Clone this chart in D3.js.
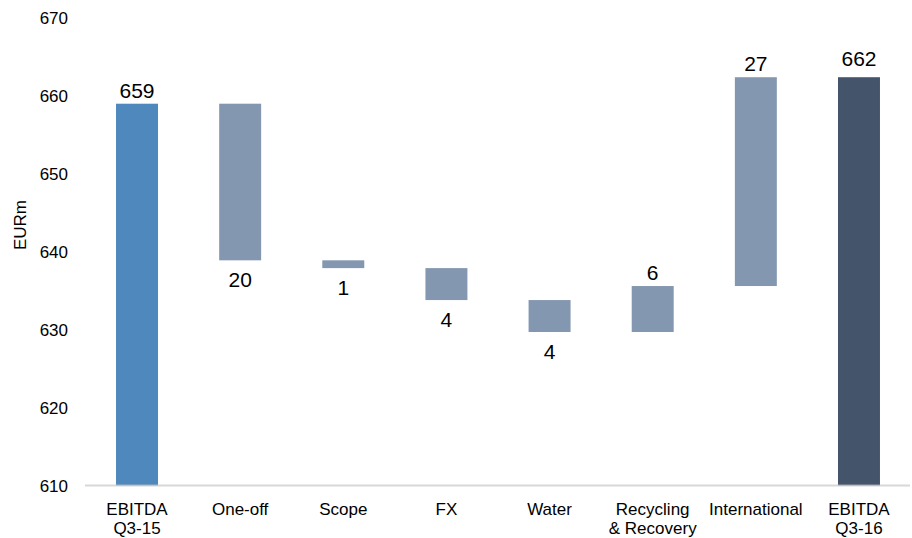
<!DOCTYPE html>
<html>
<head>
<meta charset="utf-8">
<script src="https://cdn.jsdelivr.net/npm/d3@7"></script>
<style>
  html, body { margin: 0; padding: 0; background: #fff; }
  svg { display: block; font-family: "Liberation Sans", Arial, sans-serif; }
</style>
</head>
<body>
<svg id="chart" width="912" height="538"></svg>
<script>
// ---- data ----
const categories = [["EBITDA", "Q3-15"], ["One-off"], ["Scope"], ["FX"], ["Water"], ["Recycling", "& Recovery"], ["International"], ["EBITDA", "Q3-16"]];
const startValue = 659.0;
const deltas = [-20.1, -1.0, -4.1, -4.1, 5.9, 26.8];
const endValue = 662.4;
const valueLabels = ["659", "20", "1", "4", "4", "6", "27", "662"];
const yTicks = [610, 620, 630, 640, 650, 660, 670];
const yTitle = "EURm";
const colors = { start: "#4f88bd", delta: "#8497b0", end: "#44546a" };

// ---- build waterfall rows ----
const rows = [];
rows.push({ key: 0, lo: 610, hi: startValue, type: "start", up: true });
let run = startValue;
deltas.forEach((d, i) => {
  const next = run + d;
  rows.push({ key: i + 1, lo: Math.min(run, next), hi: Math.max(run, next), type: "delta", up: d >= 0 });
  run = next;
});
rows.push({ key: rows.length, lo: 610, hi: endValue, type: "end", up: true });

const svg = d3.select("#chart");
const idx = d3.range(categories.length);

const x = d3.scaleBand().domain(idx).range([85.5, 910.5]).paddingInner(0.593).paddingOuter(0.296);
const y = d3.scaleLinear().domain([610, 670]).range([485.5, 18]);

// y tick labels
svg.append("g").selectAll("text").data(yTicks).join("text")
  .attr("x", 68).attr("y", d => y(d)).attr("dy", "0.36em")
  .attr("text-anchor", "end").attr("font-size", 17).attr("fill", "#000")
  .text(d => d);

// y title
svg.append("text")
  .attr("transform", `translate(26,225) rotate(-90)`)
  .attr("text-anchor", "middle").attr("font-size", 17).attr("fill", "#000")
  .text(yTitle);

// bars
svg.append("g").selectAll("rect").data(rows).join("rect")
  .attr("x", d => x(d.key)).attr("width", x.bandwidth())
  .attr("y", d => y(d.hi)).attr("height", d => y(d.lo) - y(d.hi))
  .attr("fill", d => colors[d.type]);

// axis baseline
svg.append("line")
  .attr("x1", 85).attr("x2", 910).attr("y1", y(610)).attr("y2", y(610))
  .attr("stroke", "#c8c8c8").attr("stroke-opacity", 0.7).attr("stroke-width", 2);

// value labels
svg.append("g").selectAll("text").data(rows).join("text")
  .attr("x", d => x(d.key) + x.bandwidth() / 2)
  .attr("y", d => d.up ? y(d.hi) - (d.type === "end" ? 11 : 6) : y(d.lo) + 27)
  .attr("text-anchor", "middle").attr("font-size", 21).attr("fill", "#000")
  .text((d, i) => valueLabels[i]);

// category labels
const cat = svg.append("g").selectAll("text").data(categories).join("text")
  .attr("x", (d, i) => x(i) + x.bandwidth() / 2)
  .attr("y", 515)
  .attr("text-anchor", "middle").attr("font-size", 17).attr("fill", "#000");
cat.selectAll("tspan").data(d => d).join("tspan")
  .attr("x", function () { return d3.select(this.parentNode).attr("x"); })
  .attr("dy", (d, i) => i === 0 ? 0 : 18.5)
  .text(d => d);
</script>
</body>
</html>
